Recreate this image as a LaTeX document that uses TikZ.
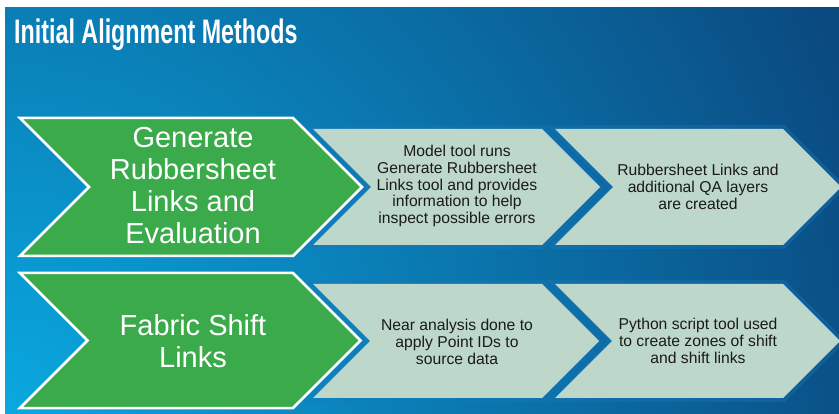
\documentclass[tikz,border=0pt]{standalone}
\usepackage{fontspec}
\setmainfont{Liberation Sans}
\usepackage{graphicx}
\definecolor{bgin}{HTML}{0AA8E0}
\definecolor{bgout}{HTML}{0A4076}
\definecolor{grn}{HTML}{3AAA4A}
\definecolor{lite}{HTML}{BDD8CB}
\definecolor{bandc}{HTML}{1A78BE}
\definecolor{ink}{HTML}{1A1A1A}
\tikzset{
  greenchev/.style={fill=grn, draw=white, line width=2.5pt, line join=miter},
  liteband/.style={draw=bandc, draw opacity=0.35, line width=8pt, line join=miter},
  litefill/.style={fill=lite},
  gtext/.style={text=white, align=center, inner sep=0pt, font=\fontsize{29}{32}\selectfont},
  ltext/.style={text=ink, align=center, inner sep=0pt, font=\fontsize{15.7}{16.7}\selectfont},
}
\newcommand\litechev[4]{% L, R, C, h
  \draw[liteband] (#1,#3-#4) -- (#2,#3-#4) -- (#2+#4,#3) -- (#2,#3+#4) -- (#1,#3+#4) -- (#1+#4,#3) -- cycle;
  \fill[litefill] (#1,#3-#4) -- (#2,#3-#4) -- (#2+#4,#3) -- (#2,#3+#4) -- (#1,#3+#4) -- (#1+#4,#3) -- cycle;
}
\newcommand\greenchevron[4]{% L, R, C, h
  \draw[greenchev] (#1,#3-#4) -- (#2,#3-#4) -- (#2+#4,#3) -- (#2,#3+#4) -- (#1,#3+#4) -- (#1+#4,#3) -- cycle;
}
\begin{document}
\begin{tikzpicture}[x=1pt,y=-1pt]
\useasboundingbox (0,0) rectangle (839,414);
\fill[white] (0,0) rectangle (839,414);
\begin{scope}
  \clip (5,8) rectangle (839,414);
  \shade[inner color=bgin, outer color=bgout] (5,414) circle (1000pt);
\end{scope}
\node[anchor=base west, inner sep=0pt, text=white, font=\bfseries\fontsize{34}{36}\selectfont] (title) at (14,44) {\scalebox{0.685}[1]{Initial Alignment Methods}};
% row 1
\litechev{313}{542}{187}{58}
\litechev{555}{783}{187}{58}
\greenchevron{20}{293}{187}{69}
% row 2
\litechev{313}{542}{341}{57}
\litechev{555}{783}{341}{57}
\greenchevron{20}{293}{340.5}{67.5}
\node[gtext] (g1) at (193,186) {Generate\\Rubbersheet\\Links and\\Evaluation};
\node[gtext] (g2) at (193,341) {Fabric Shift\\Links};
\node[ltext] (a1) at (457,186) {Model tool runs\\Generate Rubbersheet\\Links tool and provides\\information to help\\inspect possible errors};
\node[ltext] (a2) at (698,187) {Rubbersheet Links and\\additional QA layers\\are created};
\node[ltext] (b1) at (457,342) {Near analysis done to\\apply Point IDs to\\source data};
\node[ltext] (b2) at (698,341) {Python script tool used\\to create zones of shift\\and shift links};
\end{tikzpicture}
\end{document}
